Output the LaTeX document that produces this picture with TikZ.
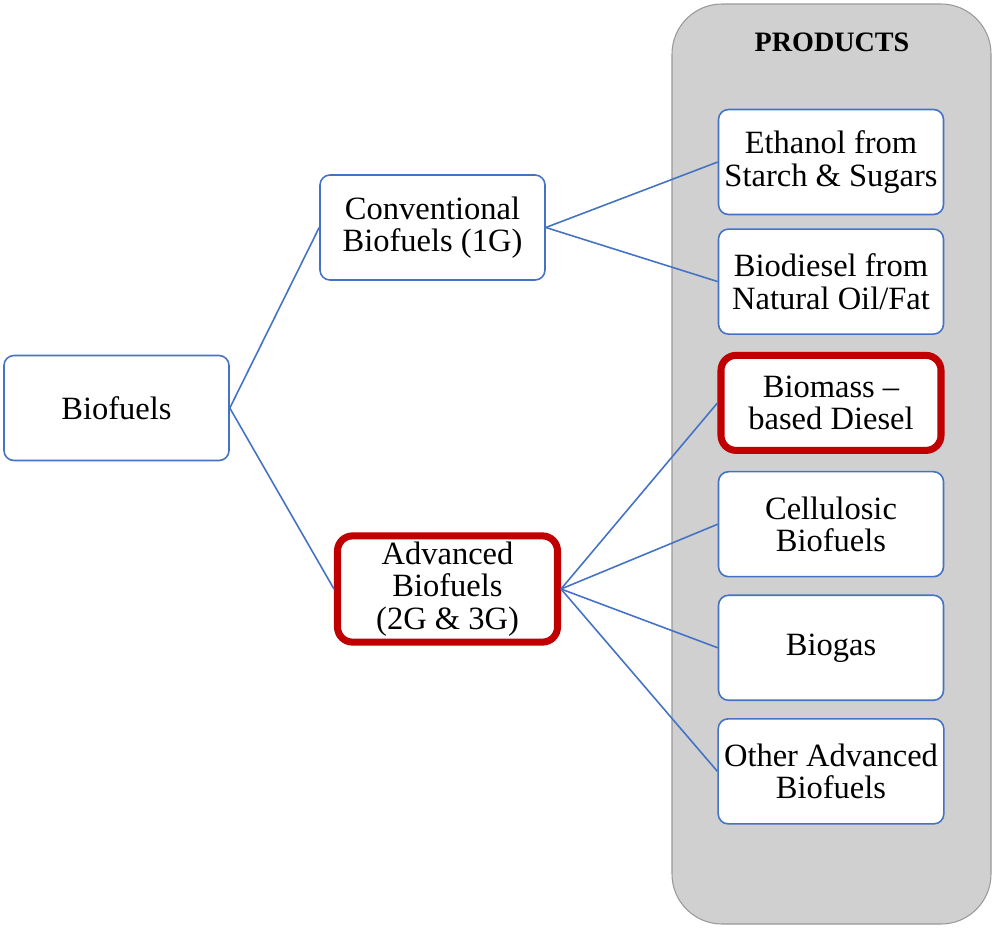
\documentclass[tikz,border=0pt]{standalone}
\usepackage{fontspec}
\setmainfont{Liberation Serif}
\usepackage{xcolor}
\usetikzlibrary{positioning}

\definecolor{linkblue}{HTML}{4472C4}
\definecolor{markred}{HTML}{C00000}
\definecolor{panelgray}{HTML}{D0D0D0}

\begin{document}
\begin{tikzpicture}[
  node distance=0.34cm and 1.2cm,
  every node/.style={font=\fontsize{18.5}{18.5}\selectfont},
  box/.style={draw=linkblue, rounded corners=0.2cm, minimum height=2.1cm, minimum width=4.5cm, align=center, fill=white, line width=0.9pt},
  marked/.style={box, draw=markred, line width=4pt, rounded corners=0.3cm, minimum width=4.4cm, minimum height=1.9cm},
  link/.style={draw=linkblue, line width=0.9pt},
]
\useasboundingbox (0,0) rectangle (19.86,-18.56);

% products panel
\filldraw[fill=panelgray, draw=gray!80, line width=0.6pt, rounded corners=1cm] (13.44,-0.08) rectangle (19.82,-18.48);
\node[font=\fontsize{16}{18}\selectfont\bfseries] (title) at (16.64,-0.84) {PRODUCTS};

% tree
\node[box] (bio) at (2.33,-8.16) {Biofuels};
\node[box] (conv) at (8.65,-4.55) {Conventional\\Biofuels (1G)};
\node[marked] (adv) at (8.95,-11.78) {Advanced\\Biofuels\\(2G \& 3G)};

\node[box] (eth) at (16.62,-3.24) {Ethanol from\\Starch \& Sugars};
\node[box, below=0.26cm of eth] (dsl) {Biodiesel from\\Natural Oil/Fat};
\node[marked, below=0.34cm of dsl] (bmd) {Biomass --\\based Diesel};
\node[box, below=0.34cm of bmd] (cell) {Cellulosic\\Biofuels};
\node[box, below=of cell] (gas) {Biogas};
\node[box, below=of gas] (oth) {Other Advanced\\Biofuels};

\draw[link] (bio.east) -- (conv.west);
\draw[link] (bio.east) -- (adv.west);
\draw[link] (conv.east) -- (eth.west);
\draw[link] (conv.east) -- (dsl.west);
\draw[link] (adv.east) -- (bmd.west);
\draw[link] (adv.east) -- (cell.west);
\draw[link] (adv.east) -- (gas.west);
\draw[link] (adv.east) -- (oth.west);
\end{tikzpicture}
\end{document}
